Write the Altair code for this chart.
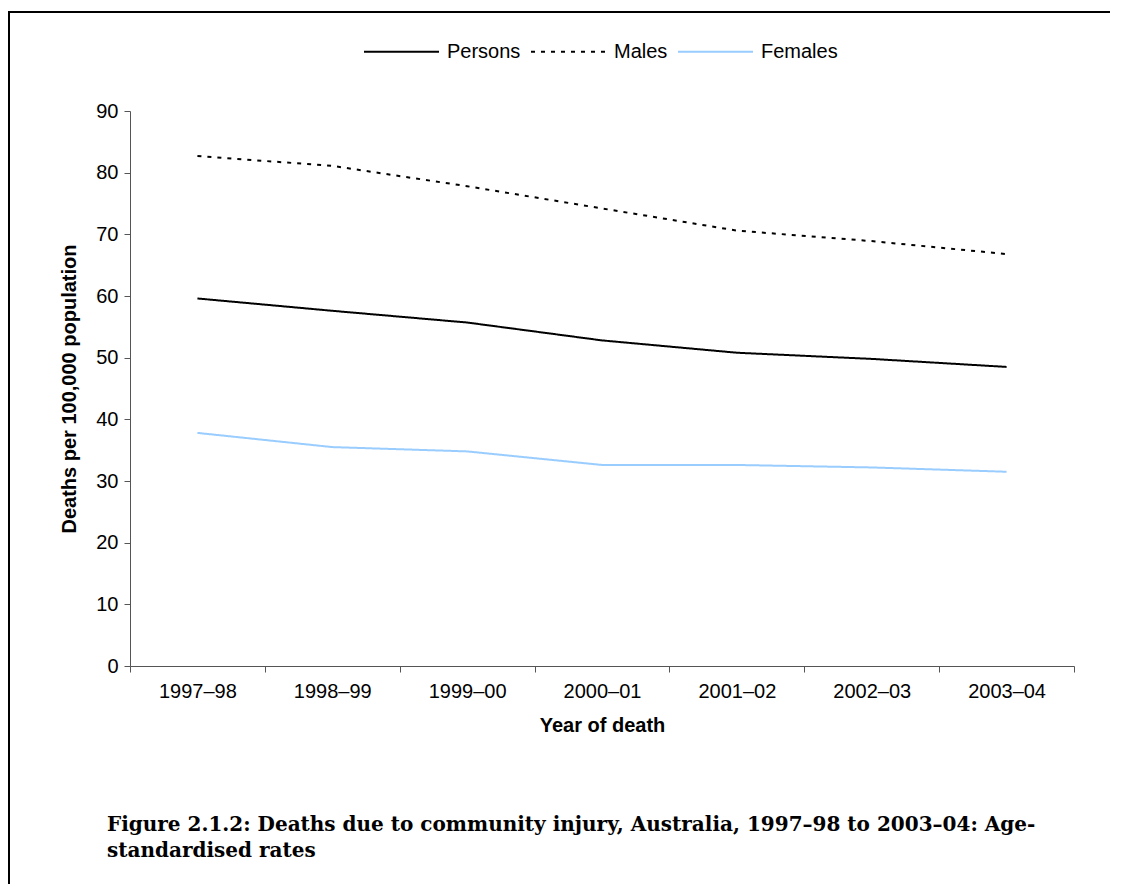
import altair as alt
import pandas as pd

categories = ["1997–98", "1998–99", "1999–00", "2000–01", "2001–02", "2002–03", "2003–04"]
series_names = ["Persons", "Males", "Females"]
persons = [59.6, 57.6, 55.7, 52.8, 50.8, 49.8, 48.5]
males = [82.7, 81.1, 77.8, 74.2, 70.6, 68.9, 66.8]
females = [37.8, 35.5, 34.8, 32.6, 32.6, 32.2, 31.5]
y_ticks = [0, 10, 20, 30, 40, 50, 60, 70, 80, 90]

caption = [
    "Figure 2.1.2: Deaths due to community injury, Australia, 1997–98 to 2003–04: Age-",
    "standardised rates",
]

rows = []
for name, vals in zip(series_names, [persons, males, females]):
    for c, v in zip(categories, vals):
        rows.append({"Year": c, "Series": name, "Rate": v})
df = pd.DataFrame(rows)

FONT = "Liberation Sans"

legend_cfg = dict(
    title=None,
    orient="none",
    direction="horizontal",
    legendX=233,
    legendY=-98,
    symbolType="stroke",
    symbolSize=5625,
    symbolStrokeWidth=2,
    labelFont=FONT,
    labelFontSize=20,
    labelColor="black",
    labelOffset=7,
    columnPadding=6,
)

lines = alt.Chart(df).mark_line(strokeWidth=2, interpolate="linear").encode(
    x=alt.X(
        "Year:N",
        sort=categories,
        bandPosition=0.5,
        scale=alt.Scale(type="band", paddingInner=0, paddingOuter=0),
        axis=alt.Axis(
            title="Year of death",
            tickBand="extent",
            labelAngle=0,
            labelFont=FONT,
            labelFontSize=20,
            labelColor="black",
            labelPadding=9,
            tickSize=6,
            tickColor="#555555",
            domainColor="#555555",
            titleFont=FONT,
            titleFontSize=20,
            titleFontWeight="bold",
            titleColor="black",
            titlePadding=14,
            grid=False,
        ),
    ),
    y=alt.Y(
        "Rate:Q",
        scale=alt.Scale(domain=[0, 90], nice=False, zero=True),
        axis=alt.Axis(
            title="Deaths per 100,000 population",
            values=y_ticks,
            labelFont=FONT,
            labelFontSize=20,
            labelColor="black",
            labelPadding=6,
            tickSize=6,
            tickColor="#555555",
            domainColor="#555555",
            titleFont=FONT,
            titleFontSize=20,
            titleFontWeight="bold",
            titleColor="black",
            titlePadding=16,
            grid=False,
        ),
    ),
    color=alt.Color(
        "Series:N",
        sort=series_names,
        scale=alt.Scale(domain=series_names, range=["#000000", "#000000", "#99CCFF"]),
        legend=alt.Legend(**legend_cfg),
    ),
    strokeDash=alt.StrokeDash(
        "Series:N",
        sort=series_names,
        scale=alt.Scale(domain=series_names, range=[[1, 0], [4, 6], [1, 0]]),
        legend=alt.Legend(**legend_cfg),
    ),
)

# decorative outer frame drawn as thin filled bands: top and left edges
one_row = pd.DataFrame({"k": [0]})
frame_top = alt.Chart(one_row).mark_rect(color="black", strokeWidth=0).encode(
    x=alt.value(-122), x2=alt.value(980), y=alt.value(-100), y2=alt.value(-98)
)
frame_left = alt.Chart(one_row).mark_rect(color="black", strokeWidth=0).encode(
    x=alt.value(-122), x2=alt.value(-120), y=alt.value(-100), y2=alt.value(773)
)

chart = alt.layer(frame_top, frame_left, lines).properties(
    width=944,
    height=555,
    padding={"left": 122, "top": 103, "right": 41, "bottom": 218},
    autosize=alt.AutoSizeParams(type="none"),
    title=alt.TitleParams(
        text=caption,
        orient="bottom",
        anchor="start",
        frame="group",
        dx=-23,
        offset=-69,
        font="DejaVu Serif",
        fontSize=20,
        fontWeight="bold",
        color="black",
        lineHeight=26,
    ),
).configure(background="white").configure_view(stroke=None, strokeWidth=0)

chart.save("out.html", embed_options={"renderer": "svg", "actions": False})
